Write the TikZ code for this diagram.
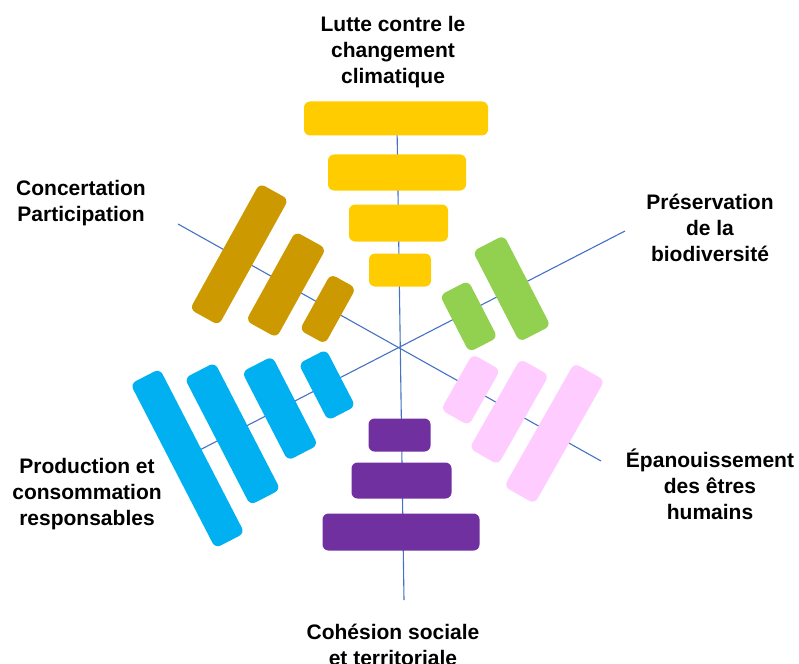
\documentclass[tikz,border=0pt]{standalone}
\usepackage{fontspec}
\setmainfont{Liberation Sans}
\usepackage{tikz}
\usetikzlibrary{positioning}
\definecolor{axisblue}{HTML}{4472C4}
\definecolor{lutte}{HTML}{FFCC00}
\definecolor{cohesion}{HTML}{7030A0}
\definecolor{biodiv}{HTML}{92D050}
\definecolor{epanou}{HTML}{FFCCFF}
\definecolor{prod}{HTML}{00B0F0}
\definecolor{concert}{HTML}{CC9900}
\tikzset{bar/.style={rectangle, rounded corners=6pt, inner sep=0pt, draw=none},
  axe/.style={axisblue, line width=1.1pt},
  titre/.style={align=center, font=\bfseries\fontsize{21}{26}\selectfont}}

\begin{document}
\begin{tikzpicture}[x=1pt,y=-1pt]
\useasboundingbox (0,0) rectangle (799,663);

\coordinate (haut) at (397,125);
\coordinate (bas) at (404,600);
\coordinate (hg) at (178,224);
\coordinate (bd) at (601,461);
\coordinate (hd) at (625,231);
\coordinate (bg) at (190,455);

\draw[axe] (haut) -- (bas);
\draw[axe] (hg) -- (bd);
\draw[axe] (hd) -- (bg);

\node[bar,fill=lutte,minimum width=184,minimum height=34] (lutte1) at (396,118.5) {};
\node[bar,fill=lutte,minimum width=138,minimum height=36] (lutte2) at (397,172.5) {};
\node[bar,fill=lutte,minimum width=99,minimum height=37] (lutte3) at (398.5,223) {};
\node[bar,fill=lutte,minimum width=62,minimum height=33] (lutte4) at (400,270) {};

\node[bar,fill=cohesion,minimum width=62,minimum height=33] (coh1) at (399.5,435) {};
\node[bar,fill=cohesion,minimum width=100,minimum height=36] (coh2) at (401.5,480.5) {};
\node[bar,fill=cohesion,minimum width=157,minimum height=37] (coh3) at (401,532) {};

\node[bar,fill=biodiv,rotate=27.3,minimum width=32,minimum height=64] (bio1) at (468.7,316.4) {};
\node[bar,fill=biodiv,rotate=27.3,minimum width=35,minimum height=102] (bio2) at (511.7,288.6) {};

\node[bar,fill=epanou,rotate=-29.6,minimum width=32,minimum height=64] (epa1) at (470.6,389.8) {};
\node[bar,fill=epanou,rotate=-29.6,minimum width=33,minimum height=103] (epa2) at (509.2,411.8) {};
\node[bar,fill=epanou,rotate=-29.6,minimum width=35,minimum height=142] (epa3) at (554.4,433.4) {};

\node[bar,fill=prod,rotate=27.3,minimum width=31,minimum height=64] (prod1) at (327,385) {};
\node[bar,fill=prod,rotate=27.3,minimum width=34,minimum height=100] (prod2) at (280,408.5) {};
\node[bar,fill=prod,rotate=27.3,minimum width=34,minimum height=143] (prod3) at (232.5,433.8) {};
\node[bar,fill=prod,rotate=27.3,minimum width=33,minimum height=185] (prod4) at (187.5,458.5) {};

\node[bar,fill=concert,rotate=-29,minimum width=29,minimum height=64] (conc1) at (327.8,309) {};
\node[bar,fill=concert,rotate=-29,minimum width=35,minimum height=102] (conc2) at (286,284.6) {};
\node[bar,fill=concert,rotate=-29,minimum width=33,minimum height=144] (conc3) at (239.2,254.3) {};

\node[titre] (tlutte) at (393,52) {Lutte contre le\\changement\\climatique};
\node[titre] (tbio) at (710,228) {Préservation\\de la\\biodiversité};
\node[titre] (tepa) at (710,484) {Épanouissement\\des êtres\\humains};
\node[titre] (tprod) at (87,494) {Production et\\consommation\\responsables};
\node[titre] (tconc) at (81,203) {Concertation\\Participation};
\node[titre] (tcoh) at (393,645) {Cohésion sociale\\et territoriale};
\end{tikzpicture}
\end{document}
